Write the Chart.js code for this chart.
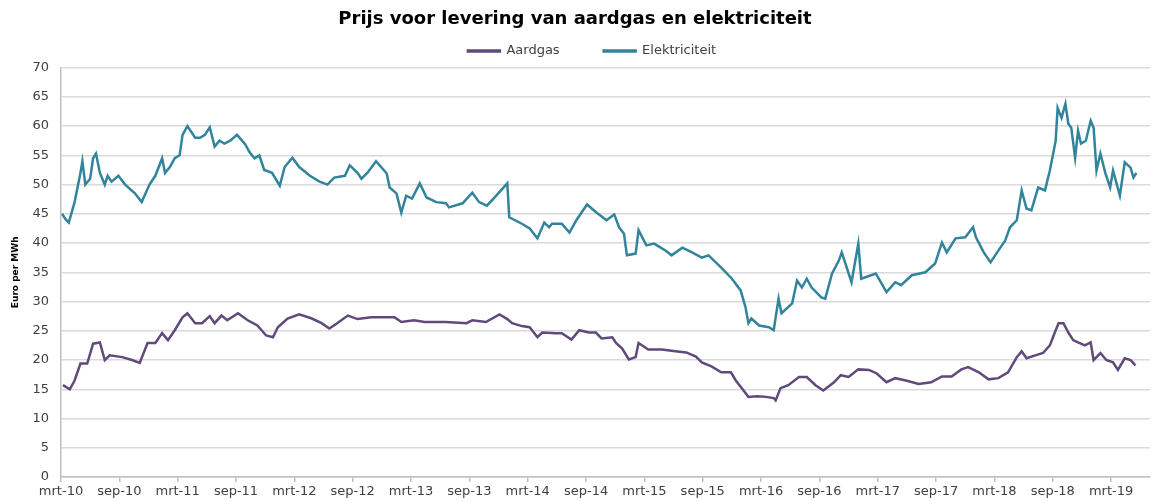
<!DOCTYPE html>
<html lang="nl">
<head>
<meta charset="UTF-8">
<title>Prijs voor levering van aardgas en elektriciteit</title>
<script src="https://cdn.jsdelivr.net/npm/chart.js"></script>
<style>
    body { margin: 0; background: #fff; }
    .wrap { width: 1161px; height: 501px; }
</style>
</head>
<body>
<div class="wrap"><canvas id="prijsChart" width="1161" height="501"></canvas></div>
<script>
// x = maanden sinds maart 2010 (mrt-10 = 0)
const tickLabels = ['mrt-10', 'sep-10', 'mrt-11', 'sep-11', 'mrt-12', 'sep-12', 'mrt-13', 'sep-13', 'mrt-14', 'sep-14',
    'mrt-15', 'sep-15', 'mrt-16', 'sep-16', 'mrt-17', 'sep-17', 'mrt-18', 'sep-18', 'mrt-19'];

const gasMonths = [0.2, 0.9, 1.4, 2.0, 2.7, 3.3, 4.0, 4.5, 5.0, 6.3, 7.3, 8.1, 8.9, 9.7, 10.4, 11.0, 11.7, 12.5, 13.0, 13.8,
    14.5, 15.3, 15.8, 16.5, 17.1, 18.2, 19.2, 20.2, 21.1, 21.8, 22.3, 23.3, 24.5, 25.8, 26.8, 27.6, 28.4, 29.5, 30.5, 31.9,
    33.3, 34.3, 35.0, 36.3, 37.4, 37.9, 39.6, 41.7, 42.3, 43.7, 45.1, 45.9, 46.4, 47.4, 48.2, 49.0, 49.5, 50.9, 51.5, 52.5,
    53.3, 54.3, 55.0, 55.6, 56.7, 57.1, 57.7, 58.4, 59.1, 59.4, 60.4, 61.8, 63.2, 64.3, 65.3, 65.9, 66.9, 67.9, 68.9, 69.4,
    70.0, 70.7, 71.6, 72.5, 73.3, 73.5, 74.0, 74.8, 75.9, 76.7, 77.6, 78.4, 79.5, 80.2, 81.0, 82.0, 83.1, 83.9, 84.9, 85.8,
    86.9, 88.2, 89.5, 90.6, 91.6, 92.6, 93.3, 94.4, 95.4, 96.4, 97.4, 98.3, 98.8, 99.3, 100.2, 101.0, 101.7, 102.3, 102.6, 103.1,
    103.6, 104.1, 104.6, 105.3, 105.9, 106.2, 106.9, 107.5, 108.2, 108.7, 109.4, 110.0, 110.5];
const gasValues = [15.7, 15.0, 16.5, 19.4, 19.4, 22.8, 23.0, 20.0, 20.8, 20.5, 20.0, 19.5, 22.9, 22.9, 24.6, 23.4, 25.1, 27.3, 28.0, 26.3,
    26.3, 27.5, 26.3, 27.6, 26.8, 28.0, 26.8, 25.9, 24.2, 23.9, 25.6, 27.1, 27.8, 27.1, 26.3, 25.4, 26.3, 27.6, 27.0, 27.3,
    27.3, 27.3, 26.5, 26.8, 26.5, 26.5, 26.5, 26.3, 26.8, 26.5, 27.8, 27.0, 26.3, 25.8, 25.6, 23.9, 24.7, 24.6, 24.6, 23.5,
    25.1, 24.7, 24.7, 23.7, 23.9, 22.9, 22.0, 20.1, 20.5, 22.9, 21.8, 21.8, 21.5, 21.3, 20.6, 19.6, 18.9, 17.9, 17.9, 16.5,
    15.2, 13.7, 13.8, 13.7, 13.5, 13.1, 15.2, 15.7, 17.1, 17.1, 15.7, 14.8, 16.2, 17.4, 17.1, 18.4, 18.3, 17.7, 16.2, 16.9,
    16.5, 15.9, 16.2, 17.2, 17.2, 18.4, 18.8, 17.9, 16.7, 16.9, 17.9, 20.5, 21.5, 20.3, 20.8, 21.2, 22.5, 25.1, 26.3, 26.3,
    24.7, 23.4, 23.0, 22.5, 23.0, 20.0, 21.2, 20.0, 19.6, 18.3, 20.3, 20.0, 19.1];

const elecMonths = [0.1, 0.5, 0.8, 1.4, 2.0, 2.2, 2.5, 3.0, 3.3, 3.6, 4.0, 4.5, 4.8, 5.2, 5.9, 6.6, 7.6, 8.3, 9.1, 9.7,
    10.4, 10.7, 11.2, 11.7, 12.2, 12.5, 13.0, 13.8, 14.3, 14.8, 15.3, 15.8, 16.3, 16.8, 17.4, 18.1, 18.9, 19.4, 19.9, 20.4,
    20.9, 21.7, 22.5, 23.0, 23.8, 24.5, 25.6, 26.6, 27.4, 28.1, 29.2, 29.7, 30.5, 30.9, 31.5, 32.4, 33.5, 33.8, 34.5, 35.0,
    35.5, 36.1, 36.9, 37.6, 38.6, 39.6, 39.9, 41.3, 42.3, 43.0, 43.8, 44.6, 45.9, 46.1, 47.4, 48.2, 49.0, 49.7, 50.2, 50.5,
    51.5, 52.3, 53.0, 54.1, 55.0, 56.1, 56.9, 57.4, 57.9, 58.2, 59.1, 59.4, 60.2, 61.0, 62.2, 62.8, 63.9, 64.9, 65.9, 66.6,
    67.9, 69.0, 69.9, 70.4, 70.7, 71.0, 71.8, 72.8, 73.3, 73.8, 74.1, 75.2, 75.7, 76.2, 76.7, 77.2, 78.2, 78.6, 79.3, 80.0,
    80.3, 81.3, 82.0, 82.3, 83.8, 84.9, 85.8, 86.4, 87.5, 88.9, 89.9, 90.6, 91.1, 92.0, 93.0, 93.8, 94.1, 94.9, 95.6, 96.4,
    97.1, 97.6, 98.3, 98.8, 99.3, 99.8, 100.5, 101.2, 101.7, 102.3, 102.5, 102.9, 103.3, 103.6, 103.9, 104.3, 104.6, 104.9, 105.4, 105.9,
    106.2, 106.5, 106.9, 107.4, 107.9, 108.2, 108.9, 109.4, 110.0, 110.3, 110.6];
const elecValues = [45.0, 44.0, 43.5, 47.0, 52.0, 54.0, 50.0, 51.0, 54.5, 55.3, 52.0, 50.0, 51.5, 50.5, 51.5, 50.0, 48.5, 47.0, 50.0, 51.5,
    54.5, 52.0, 53.0, 54.5, 55.0, 58.5, 60.0, 58.0, 58.0, 58.5, 59.8, 56.5, 57.5, 57.0, 57.5, 58.5, 57.0, 55.5, 54.5, 55.0,
    52.5, 52.0, 49.8, 53.0, 54.6, 53.0, 51.5, 50.5, 50.0, 51.2, 51.5, 53.3, 52.0, 51.0, 52.0, 54.0, 51.9, 49.5, 48.5, 45.2,
    48.1, 47.6, 50.2, 47.8, 47.0, 46.8, 46.1, 46.8, 48.6, 47.0, 46.4, 47.8, 50.2, 44.4, 43.3, 42.5, 40.8, 43.5, 42.7, 43.3,
    43.3, 41.8, 43.9, 46.6, 45.3, 43.9, 44.9, 42.7, 41.6, 37.9, 38.2, 42.2, 39.6, 39.9, 38.7, 37.9, 39.2, 38.4, 37.5, 37.9,
    35.8, 33.9, 31.9, 29.0, 26.3, 27.1, 25.9, 25.6, 25.1, 30.5, 28.0, 29.7, 33.6, 32.4, 33.9, 32.4, 30.7, 30.5, 34.8, 37.0,
    38.4, 33.3, 39.9, 33.9, 34.8, 31.6, 33.3, 32.8, 34.5, 35.0, 36.5, 40.1, 38.4, 40.8, 41.0, 42.7, 41.0, 38.4, 36.7, 38.7,
    40.4, 42.7, 43.9, 49.0, 45.9, 45.6, 49.5, 49.0, 52.4, 57.5, 63.1, 61.4, 63.8, 60.4, 59.7, 54.6, 59.2, 57.0, 57.5, 60.9,
    59.7, 52.4, 55.3, 52.0, 49.5, 52.4, 48.1, 53.8, 52.9, 51.2, 52.0];

const toPoints = (xs, ys) => xs.map((x, i) => ({ x: x, y: ys[i] }));

// legenda iets naar rechts, zoals in het origineel
const legendShift = {
    id: 'legendShift',
    afterLayout(chart) {
        chart.legend.left += 34;
    }
};

const ctx = document.getElementById('prijsChart').getContext('2d');
const prijsChart = new Chart(ctx, {
    type: 'line',
    data: {
        datasets: [
            {
                label: 'Aardgas',
                data: toPoints(gasMonths, gasValues),
                borderColor: '#604A7B',
                backgroundColor: '#604A7B',
                borderWidth: 2.5,
                pointRadius: 0,
                fill: false
            },
            {
                label: 'Elektriciteit',
                data: toPoints(elecMonths, elecValues),
                borderColor: '#31849B',
                backgroundColor: '#31849B',
                borderWidth: 2.5,
                pointRadius: 0,
                fill: false
            }
        ]
    },
    options: {
        responsive: false,
        animation: false,
        layout: { padding: { left: 0, right: 11, top: 0, bottom: 0 } },
        plugins: {
            title: {
                display: true,
                text: 'Prijs voor levering van aardgas en elektriciteit',
                color: '#000',
                font: { family: 'DejaVu Sans', size: 18, weight: 'bold' },
                padding: { top: 9, bottom: -30 }
            },
            legend: {
                labels: {
                    boxWidth: 32,
                    boxHeight: 1,
                    padding: 44,
                    color: '#404040',
                    font: { family: 'DejaVu Sans', size: 13 }
                }
            },
            tooltip: { enabled: false }
        },
        scales: {
            x: {
                type: 'linear',
                min: 0,
                max: 112,
                afterBuildTicks: s => { s.ticks = s.ticks.filter(t => t.value % 6 === 0); },
                afterFit: s => { s.height = 24; },
                ticks: {
                    stepSize: 6,
                    autoSkip: false,
                    maxRotation: 0,
                    padding: 2,
                    color: '#404040',
                    font: { family: 'DejaVu Sans', size: 13 },
                    callback: v => tickLabels[v / 6]
                },
                grid: { drawOnChartArea: false, tickLength: 5, color: '#bfbfbf', lineWidth: 1.5 },
                border: { color: '#bfbfbf', width: 1.5 }
            },
            y: {
                min: 0,
                max: 70,
                afterFit: s => { s.width = 61; },
                ticks: {
                    stepSize: 5,
                    padding: 12,
                    color: '#404040',
                    font: { family: 'DejaVu Sans', size: 13 }
                },
                grid: { color: '#dadada', lineWidth: 1.5, drawTicks: false },
                border: { color: '#bfbfbf', width: 1.5 },
                title: {
                    display: true,
                    text: 'Euro per MWh',
                    color: '#000',
                    font: { family: 'DejaVu Sans', size: 9, weight: 'bold' },
                    padding: { top: 10, bottom: 0 }
                }
            }
        }
    },
    plugins: [legendShift]
});
</script>
</body>
</html>
